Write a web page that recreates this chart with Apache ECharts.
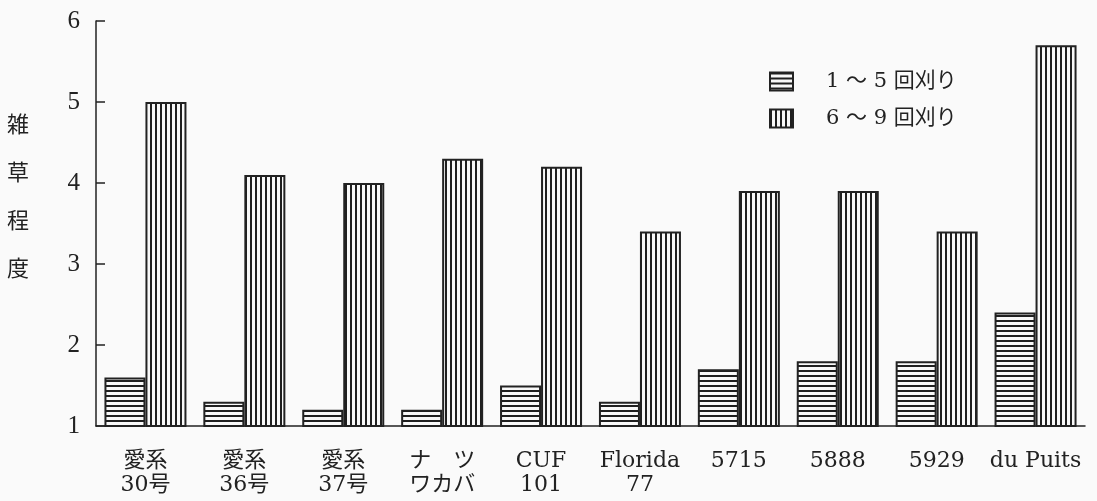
<!DOCTYPE html>
<html><head><meta charset="utf-8">
<script src="https://cdn.jsdelivr.net/npm/echarts@6/dist/echarts.min.js"></script>
<style>html,body{margin:0;padding:0;background:#fafafa}#c{width:1097px;height:501px}</style>
</head><body><div id="c"></div>
<script>
// ---- data ----
const categories = ['愛系\n30号','愛系\n36号','愛系\n37号','ナ　ツ\nワカバ','CUF\n101','Florida\n77','5715','5888','5929','du Puits'];
const seriesNames = ['1 〜 5 回刈り','6 〜 9 回刈り'];
const cut1to5 = [1.6, 1.3, 1.2, 1.2, 1.5, 1.3, 1.7, 1.8, 1.8, 2.4];
const cut6to9 = [5.0, 4.1, 4.0, 4.3, 4.2, 3.4, 3.9, 3.9, 3.4, 5.7];
const yMin = 1, yMax = 6, yStep = 1;
const yTitle = '雑\n草\n程\n度';

// ---- stripe patterns ----
function stripes(horizontal) {
  const c = document.createElement('canvas');
  const period = 5;
  c.width = horizontal ? 4 : period;
  c.height = horizontal ? period : 4;
  const g = c.getContext('2d');
  g.fillStyle = '#f8f8f8';
  g.fillRect(0, 0, c.width, c.height);
  g.fillStyle = '#1f1f1f';
  if (horizontal) g.fillRect(0, 0, c.width, 2);
  else g.fillRect(0, 0, 2, c.height);
  return { image: c, repeat: 'repeat' };
}

const ink = '#222';
const serif = "'DejaVu Serif','Noto Sans CJK JP',serif";

const chart = echarts.init(document.getElementById('c'), null, { renderer: 'canvas' });
chart.setOption({
  backgroundColor: '#fafafa',
  animation: false,
  grid: { left: 96, right: 12, top: 21, bottom: 75 },
  legend: {
    orient: 'vertical', left: 764, top: 66,
    itemWidth: 23, itemHeight: 18, itemGap: 16, icon: 'rect',
    textStyle: { fontSize: 21, fontFamily: serif, color: ink, padding: [0, 0, 0, 28] },
    data: seriesNames
  },
  graphic: [{
    type: 'text', left: 7, top: 100,
    style: { text: yTitle, fontSize: 22, lineHeight: 48, fontFamily: "'Noto Sans CJK JP'", fill: ink, align: 'center' }
  }],
  xAxis: {
    type: 'category', data: categories,
    axisLine: { lineStyle: { color: ink, width: 1.5 } },
    axisTick: { show: false },
    axisLabel: { interval: 0, margin: 23, fontSize: 22, lineHeight: 24, fontFamily: serif, color: ink }
  },
  yAxis: {
    type: 'value', min: yMin, max: yMax, interval: yStep,
    splitLine: { show: false },
    axisLine: { show: true, lineStyle: { color: ink, width: 1.5 } },
    axisTick: { show: true, inside: true, length: 9, lineStyle: { color: ink, width: 1.5 } },
    axisLabel: { margin: 16, fontSize: 25, fontFamily: "'Liberation Serif',serif", color: ink }
  },
  series: [
    { name: seriesNames[0], type: 'bar', data: cut1to5, barWidth: 41, barGap: '0%',
      itemStyle: { color: stripes(true), borderColor: ink, borderWidth: 2 } },
    { name: seriesNames[1], type: 'bar', data: cut6to9, barWidth: 41, barGap: '0%',
      itemStyle: { color: stripes(false), borderColor: ink, borderWidth: 2 } }
  ]
});
</script></body></html>
